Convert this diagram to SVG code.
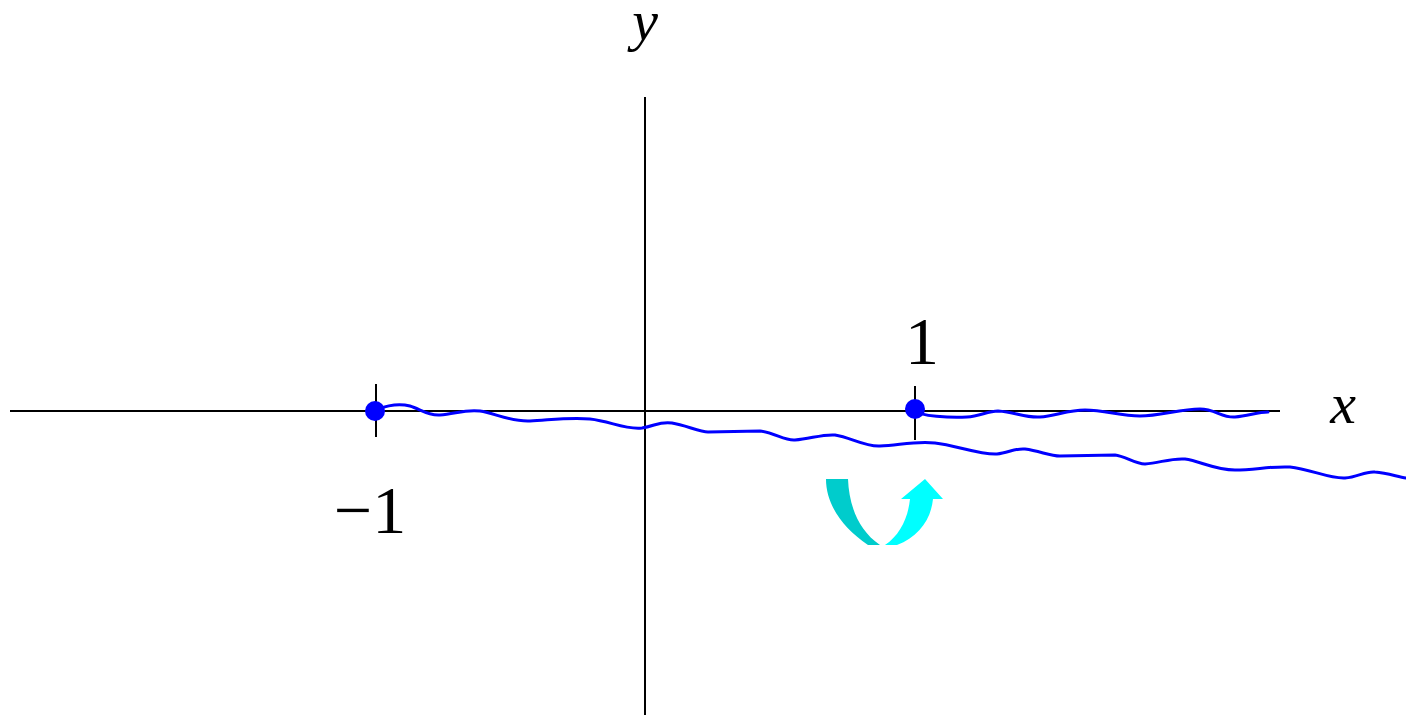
<svg xmlns="http://www.w3.org/2000/svg" width="1406" height="715" viewBox="0 0 1406 715">
<style>
.ax{stroke:#000;stroke-width:2;fill:none}
.cv{stroke:#0000ff;stroke-width:3;fill:none;stroke-linejoin:round;stroke-linecap:round}
.it{font-family:"Liberation Serif",serif;font-style:italic;font-size:58px;fill:#000}
.nm{font-family:"Liberation Serif",serif;font-size:68px;fill:#000}
</style>
<rect width="1406" height="715" fill="#fff"/>
<g id="axes">
<line class="ax" x1="10" y1="411" x2="1280" y2="411"/>
<line class="ax" x1="645" y1="97" x2="645" y2="715"/>
<line class="ax" x1="376" y1="384" x2="376" y2="437"/>
<line class="ax" x1="915" y1="386" x2="915" y2="440"/>
</g>
<g id="connectors">
<path class="cv" d="M376,411 C380,408 395,402 410,406 C420,409 428,416 440,415 C455,414 465,409 480,411 C495,413 510,422 530,421 C550,420 570,417 590,419 C610,421 625,430 642,428 C655,426 660,421 672,423 C685,425 700,432 708,432 L760,431 C775,433 785,441 795,440 C810,439 822,434 835,435 C850,437 865,447 880,446 C900,445 915,441 935,443 C955,445 980,455 997,454 C1008,453 1015,448 1025,449 C1040,451 1050,456 1060,456 L1115,455 C1125,456 1135,464 1145,464 C1160,463 1170,458 1185,459 C1200,461 1215,470 1235,470 C1255,470 1270,466 1290,467 C1310,469 1330,479 1345,478 C1358,477 1365,471 1375,472 C1388,473 1398,477 1406,478"/>
<path class="cv" d="M915,411 C920,416 950,418 967,417 C980,416 988,411 998,411 C1015,412 1025,418 1040,417 C1055,416 1068,410 1085,410 C1105,410 1120,416 1140,416 C1160,416 1180,409 1200,409 C1215,409 1222,418 1235,417 C1248,416 1258,412 1268,412"/>
</g>
<g id="dots">
<circle id="p-1" cx="375" cy="411" r="10" fill="#0000ff"/>
<circle id="p1" cx="915" cy="409" r="10" fill="#0000ff"/>
</g>
<g id="arrow">
<path d="M826,479 L848,479 C849,505 858,530 880,545 L868,545 C843,528 826,505 826,479 Z" fill="#00cccc"/>
<path d="M885,545 C900,535 908,518 910,499 L901,499 L925,479 L943,499 L933,499 C931,520 918,537 897,545 Z" fill="#00ffff"/>
</g>
<g id="labels">
<text class="it" x="645" y="40" text-anchor="middle">y</text>
<text class="it" x="1343" y="423" text-anchor="middle">x</text>
<text class="nm" x="922" y="364" text-anchor="middle">1</text>
<text class="nm" x="370" y="533" text-anchor="middle">−1</text>
</g>
</svg>
